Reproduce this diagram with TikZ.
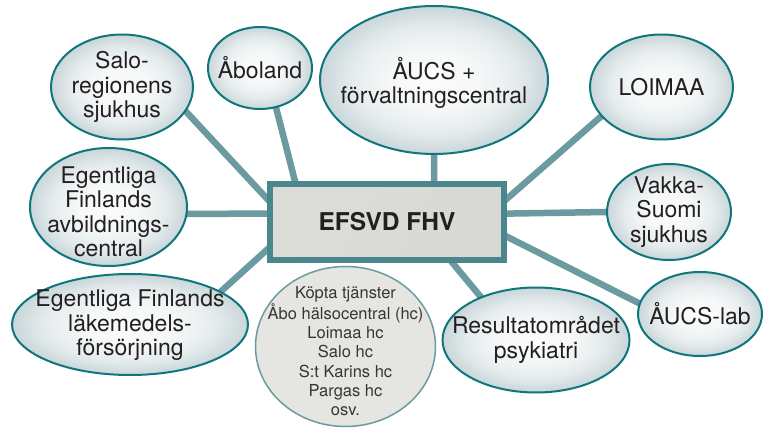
\documentclass[tikz,border=0pt]{standalone}
\usepackage{fontspec}
\setmainfont{TeX Gyre Heros}
\usetikzlibrary{shapes.geometric,backgrounds}
\definecolor{linkc}{RGB}{107,154,160}
\definecolor{rimc}{RGB}{15,118,123}
\definecolor{boxc}{RGB}{74,135,140}
\definecolor{txtc}{RGB}{35,31,32}
\definecolor{kopfill}{RGB}{229,229,225}
\definecolor{boxl}{RGB}{220,220,216}
\definecolor{boxm}{RGB}{248,248,246}
\definecolor{boxr}{RGB}{216,216,212}
\pgfdeclareradialshading{bubshade}{\pgfpoint{0bp}{0bp}}{%
  rgb(0bp)=(0.985,0.99,0.99);
  rgb(10bp)=(0.96,0.97,0.972);
  rgb(18bp)=(0.9,0.925,0.93);
  rgb(25bp)=(0.79,0.84,0.855);
  rgb(50bp)=(0.79,0.84,0.855)}
\begin{document}
\begin{tikzpicture}[x=1pt,y=-1pt,
  bubble/.style={ellipse, draw=rimc, line width=2pt, shading=bubshade, inner sep=0pt},
  btext/.style={font=\fontsize{23}{24.5}\selectfont, text=txtc, align=center, inner sep=0pt},
  stext/.style={font=\fontsize{16.5}{19.3}\selectfont, text=txtc!90!white, align=center, inner sep=0pt},
  link/.style={draw=linkc, line width=6.5pt, shorten >=-4pt, shorten <=-3pt},
]
\useasboundingbox (0,0) rectangle (763,430);

\node[bubble, minimum width=142pt, minimum height=105pt,
  label={[btext]center:{Salo-\\regionens\\sjukhus}}] (salo) at (122,87) {};
\node[bubble, minimum width=104pt, minimum height=82pt,
  label={[btext]center:{Åboland}}] (abo) at (260,68) {};
\node[bubble, minimum width=228pt, minimum height=148pt,
  label={[btext,yshift=-3pt]center:{ÅUCS +\\förvaltningscentral}}] (aucs) at (434,80) {};
\node[bubble, minimum width=143pt, minimum height=105pt,
  label={[btext]center:{LOIMAA}}] (loimaa) at (661.5,87) {};
\node[bubble, minimum width=124pt, minimum height=96pt,
  label={[btext]center:{Vakka-\\Suomi\\sjukhus}}] (vakka) at (669,212) {};
\node[bubble, minimum width=124pt, minimum height=84pt,
  label={[btext]center:{ÅUCS-lab}}] (lab) at (700,314) {};
\node[bubble, minimum width=187pt, minimum height=105pt,
  label={[btext]center:{Resultatområdet\\psykiatri}}] (res) at (536,340) {};
\node[bubble, minimum width=157pt, minimum height=118pt,
  label={[btext,yshift=-5pt]center:{Egentliga\\Finlands\\avbildnings-\\central}}] (avb) at (108.5,207) {};
\node[bubble, minimum width=236pt, minimum height=101pt,
  label={[btext,yshift=-1pt]center:{Egentliga Finlands\\läkemedels-\\försörjning}}] (lak) at (130,324.5) {};
\node[ellipse, draw=linkc, line width=1.5pt, fill=kopfill, inner sep=0pt,
  minimum width=180pt, minimum height=160pt,
  label={[stext,yshift=-5pt]center:{Köpta tjänster\\Åbo hälsocentral (hc)\\Loimaa hc\\Salo hc\\S:t Karins hc\\Pargas hc\\osv.}}] (kop) at (345.5,346.5) {};

\node[draw=boxc, line width=6pt, minimum width=234pt, minimum height=76pt,
  left color=boxl, middle color=boxm, right color=boxr, shading angle=60,
  font=\bfseries\fontsize{24.5}{26}\selectfont, text=txtc] (box) at (387,222) {EFSVD FHV};

\begin{scope}[on background layer]
\draw[link] (salo.-21.8) -- (box.169.3);
\draw[link] (abo.-68) -- (box.156);
\draw[link] (aucs.south) -- (box.41.5);
\draw[link] (loimaa.206.8) -- (box.11.9);
\draw[link] (vakka.west) -- (box.4.5);
\draw[link] (lab.170) -- (box.-7.3);
\draw[link] (res.142.5) -- (box.-32.4);
\draw[link] (avb.-5.7) -- (box.176.5);
\draw[link] (lak.20.6) -- (box.-167.2);
\end{scope}
\end{tikzpicture}
\end{document}
